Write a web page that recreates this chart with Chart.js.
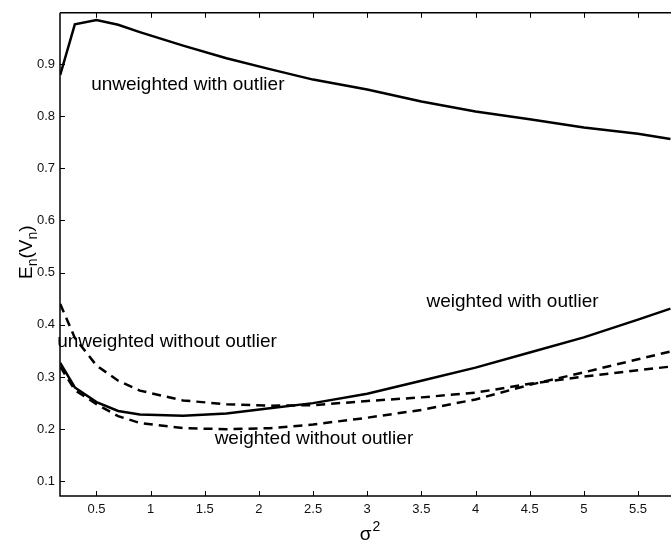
<!DOCTYPE html>
<html>
<head>
<meta charset="utf-8">
<script src="https://cdn.jsdelivr.net/npm/chart.js@4"></script>
<style>
  html, body { margin: 0; padding: 0; background: #fff; }
  #plot { display: block; }
</style>
</head>
<body>
<canvas id="plot" width="671" height="545" style="width:671px;height:545px"></canvas>
<script>
// sigma^2 values the curves were sampled at
var sigma2 = [0.165, 0.3, 0.5, 0.7, 0.9, 1.3, 1.7, 2.1, 2.5, 3.0, 3.5, 4.0, 4.5, 5.0, 5.5, 5.8];

// E_n(V_n) for each estimator
var unweightedWith    = [0.879, 0.976, 0.984, 0.975, 0.961, 0.935, 0.911, 0.890, 0.870, 0.851, 0.828, 0.809, 0.794, 0.778, 0.766, 0.756];
var weightedWith      = [0.327, 0.280, 0.252, 0.235, 0.228, 0.226, 0.230, 0.240, 0.250, 0.268, 0.293, 0.318, 0.347, 0.376, 0.410, 0.431];
var unweightedWithout = [0.440, 0.375, 0.322, 0.293, 0.274, 0.255, 0.248, 0.245, 0.246, 0.254, 0.261, 0.270, 0.287, 0.301, 0.313, 0.320];
var weightedWithout   = [0.320, 0.275, 0.248, 0.225, 0.212, 0.202, 0.200, 0.202, 0.209, 0.222, 0.237, 0.257, 0.285, 0.309, 0.334, 0.349];

// axis ticks
var xTicks = [0.5, 1, 1.5, 2, 2.5, 3, 3.5, 4, 4.5, 5, 5.5];
var xTickLabels = ['0.5', '1', '1.5', '2', '2.5', '3', '3.5', '4', '4.5', '5', '5.5'];
var yTicks = [0.1, 0.2, 0.3, 0.4, 0.5, 0.6, 0.7, 0.8, 0.9];
var yTickLabels = ['0.1', '0.2', '0.3', '0.4', '0.5', '0.6', '0.7', '0.8', '0.9'];

// in-plot labels (text and where it sits, in data units)
var labelText = ['unweighted with outlier', 'unweighted without outlier', 'weighted with outlier', 'weighted without outlier'];
var labelX = [0.451, 0.137, 3.547, 1.591];
var labelY = [0.851, 0.358, 0.435, 0.172];

var FONT = '"Liberation Sans", Arial, Helvetica, sans-serif';

function pts(ys) {
    return sigma2.map(function (x, i) { return { x: x, y: ys[i] }; });
}

function series(label, ys, dashed) {
    return {
        label: label,
        data: pts(ys),
        borderColor: '#000',
        backgroundColor: '#000',
        borderWidth: 2.5,
        borderDash: dashed ? [9, 6] : [],
        pointRadius: 0,
        fill: false,
        tension: 0
    };
}

// frame, inward ticks, titles and curve labels
var decorations = {
    id: 'decorations',
    afterDraw: function (chart) {
        var ctx = chart.ctx;
        var a = chart.chartArea;
        var xs = chart.scales.x, ys = chart.scales.y;
        ctx.save();
        ctx.strokeStyle = '#000';
        ctx.lineWidth = 1.5;
        ctx.beginPath();
        ctx.moveTo(a.left, a.top); ctx.lineTo(a.right + 2, a.top);
        ctx.moveTo(a.left, a.top); ctx.lineTo(a.left, a.bottom);
        ctx.lineTo(a.right + 2, a.bottom);
        ctx.stroke();

        ctx.lineWidth = 1;
        ctx.beginPath();
        xTicks.forEach(function (v) {
            var px = Math.round(xs.getPixelForValue(v)) + 0.5;
            ctx.moveTo(px, a.bottom); ctx.lineTo(px, a.bottom - 5);
            ctx.moveTo(px, a.top); ctx.lineTo(px, a.top + 5);
        });
        yTicks.forEach(function (v) {
            var py = Math.round(ys.getPixelForValue(v)) + 0.5;
            ctx.moveTo(a.left, py); ctx.lineTo(a.left + 5, py);
        });
        ctx.stroke();

        ctx.fillStyle = '#000';
        ctx.textBaseline = 'alphabetic';
        ctx.textAlign = 'left';

        // curve labels
        ctx.font = '19px ' + FONT;
        labelText.forEach(function (t, i) {
            ctx.fillText(t, xs.getPixelForValue(labelX[i]), ys.getPixelForValue(labelY[i]));
        });

        // x title: sigma^2
        var tx = xs.getPixelForValue(2.93);
        ctx.font = '19px ' + FONT;
        ctx.fillText('\u03c3', tx, 539.5);
        var w = ctx.measureText('\u03c3').width;
        ctx.font = '14px ' + FONT;
        ctx.fillText('2', tx + w + 1, 531);

        // y title: E_n(V_n), rotated
        ctx.translate(32, 279);
        ctx.rotate(-Math.PI / 2);
        var x = 0;
        var parts = [['E', 0], ['n', 1], ['(V', 0], ['n', 1], [')', 0]];
        parts.forEach(function (p) {
            ctx.font = (p[1] ? '14px ' : '19px ') + FONT;
            ctx.fillText(p[0], x, p[1] ? 5 : 0);
            x += ctx.measureText(p[0]).width;
        });
        ctx.restore();
    }
};

new Chart(document.getElementById('plot').getContext('2d'), {
    type: 'line',
    data: {
        datasets: [
            series('unweighted with outlier', unweightedWith, false),
            series('weighted with outlier', weightedWith, false),
            series('unweighted without outlier', unweightedWithout, true),
            series('weighted without outlier', weightedWithout, true)
        ]
    },
    options: {
        responsive: false,
        animation: false,
        devicePixelRatio: 1,
        layout: { padding: { top: 7, left: 0, right: 0, bottom: 0 } },
        plugins: {
            legend: { display: false },
            tooltip: { enabled: false }
        },
        scales: {
            x: {
                type: 'linear',
                min: 0.163,
                max: 5.805,
                grid: { display: false, drawTicks: false },
                border: { display: false },
                afterBuildTicks: function (s) { s.ticks = xTicks.map(function (v) { return { value: v }; }); },
                afterFit: function (s) { s.height = 49; },
                ticks: {
                    padding: 6,
                    maxRotation: 0,
                    autoSkip: false,
                    color: '#111',
                    font: { family: FONT, size: 13 },
                    callback: function (v) { return xTickLabels[xTicks.indexOf(v)]; }
                }
            },
            y: {
                type: 'linear',
                min: 0.072,
                max: 0.998,
                grid: { display: false, drawTicks: false },
                border: { display: false },
                afterBuildTicks: function (s) { s.ticks = yTicks.map(function (v) { return { value: v }; }); },
                afterFit: function (s) { s.width = 60; },
                ticks: {
                    padding: 5,
                    autoSkip: false,
                    color: '#111',
                    font: { family: FONT, size: 13 },
                    callback: function (v) { return yTickLabels[yTicks.indexOf(v)]; }
                }
            }
        }
    },
    plugins: [decorations]
});
</script>
</body>
</html>
